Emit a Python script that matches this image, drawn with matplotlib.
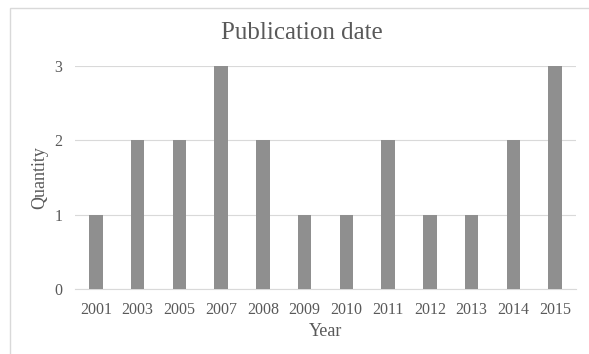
import matplotlib
matplotlib.use("Agg")
import matplotlib.pyplot as plt
from matplotlib.patches import Rectangle

years = ["2001", "2003", "2005", "2007", "2008", "2009", "2010", "2011", "2012", "2013", "2014", "2015"]
quantity = [1, 2, 2, 3, 2, 1, 1, 2, 1, 1, 2, 3]
yticks = [0, 1, 2, 3]

plt.rcParams['font.family'] = ['Liberation Serif', 'DejaVu Serif']

fig = plt.figure(figsize=(5.89, 3.54), dpi=100)
fig.patches.append(Rectangle((10/589, -0.05), 1.2, 1 - 8/354 + 0.05,
                             transform=fig.transFigure, fill=False,
                             edgecolor="#d9d9d9", linewidth=1.0))
ax = fig.add_axes([75/589, 1 - 289/354, (576-75)/589, (289-66)/354])

x = list(range(len(years)))
ax.bar(x, quantity, width=0.32, color="#8f8f8f", zorder=3)
ax.set_xlim(-0.5, len(years) - 0.5)
ax.set_ylim(0, 3)
ax.set_yticks(yticks)
ax.set_xticks(x)
ax.set_xticklabels(years)
for s in ["top", "right", "left"]:
    ax.spines[s].set_visible(False)
ax.spines["bottom"].set_color("#d9d9d9")
ax.tick_params(axis="both", length=0, colors="#595959", labelsize=11.5)
ax.tick_params(axis="x", pad=9)
ax.tick_params(axis="y", pad=9)
ax.grid(axis="y", color="#d9d9d9", linewidth=0.8, zorder=0)
ax.set_xlabel("Year", color="#595959", fontsize=13, labelpad=4)
ax.set_ylabel("Quantity", color="#595959", fontsize=13)
ax.yaxis.set_label_coords((48 - 75) / 501, 0.5)
fig.text(302/589, 1 - 33/354, "Publication date", ha="center", va="center",
         color="#595959", fontsize=18)
fig.savefig("out.png", dpi=100)
